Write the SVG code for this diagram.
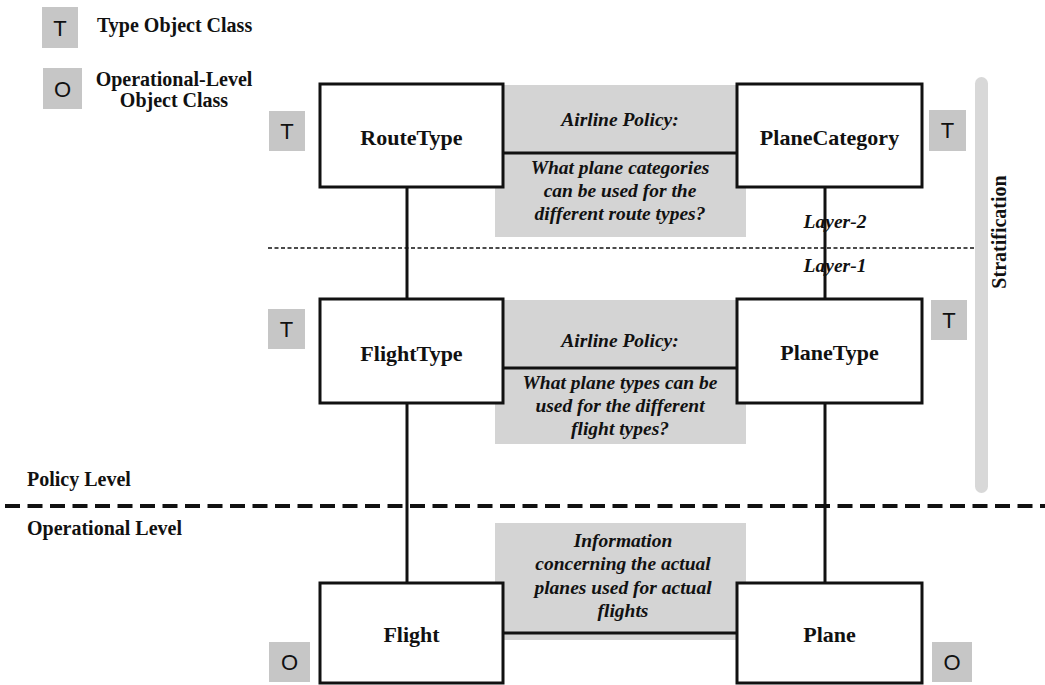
<svg xmlns="http://www.w3.org/2000/svg" width="1045" height="685" viewBox="0 0 1045 685">
<style>
.badge{fill:#c6c6c6}
.bl{font-family:"Liberation Sans",Arial,sans-serif;font-size:22px;fill:#111;text-anchor:middle}
.box{fill:#fff;stroke:#111;stroke-width:3}
.lbl{font-family:"Liberation Serif","Times New Roman",serif;font-weight:bold;font-size:22px;fill:#111;text-anchor:middle}
.note{fill:#d4d4d4}
.nt{font-family:"Liberation Serif","Times New Roman",serif;font-weight:bold;font-style:italic;font-size:19.5px;fill:#111;text-anchor:middle}
.leg{font-family:"Liberation Serif","Times New Roman",serif;font-weight:bold;font-size:20px;fill:#111}
.conn{stroke:#111;stroke-width:3;fill:none}
</style>
<rect width="1045" height="685" fill="#fff"/>

<g id="legend">
<rect class="badge" x="42" y="7" width="36" height="41"/>
<text class="bl" x="60" y="36">T</text>
<text class="leg" x="97" y="32">Type Object Class</text>
<rect class="badge" x="43" y="68" width="39" height="41"/>
<text class="bl" x="62.5" y="97">O</text>
<text class="leg" x="174" y="86" text-anchor="middle">Operational-Level</text>
<text class="leg" x="174" y="107" text-anchor="middle">Object Class</text>
</g>

<g id="stratification">
<rect x="975" y="77" width="13" height="416" rx="6.5" fill="#d8d8d8"/>
<text class="leg" font-size="18" text-anchor="middle" transform="translate(1006,232) rotate(-90)">Stratification</text>
</g>

<g id="levels">
<line x1="268" y1="248" x2="975" y2="248" stroke="#111" stroke-width="1.5" stroke-dasharray="4 2.5"/>
<line x1="5" y1="506" x2="1045" y2="506" stroke="#111" stroke-width="4" stroke-dasharray="15 7.5"/>
<text class="leg" x="27" y="486">Policy Level</text>
<text class="leg" x="27" y="535">Operational Level</text>
<text class="nt" x="835" y="228" text-anchor="start">Layer-2</text>
<text class="nt" x="835" y="272" text-anchor="start">Layer-1</text>
</g>

<g id="note1">
<rect class="note" x="495" y="85" width="251" height="152"/>
<text class="nt" x="620" y="126">Airline Policy:</text>
<text class="nt" x="620" y="174">What plane categories</text>
<text class="nt" x="620" y="197">can be used for the</text>
<text class="nt" x="620" y="220">different route types?</text>
</g>
<g id="note2">
<rect class="note" x="495" y="300" width="251" height="144"/>
<text class="nt" x="620" y="347">Airline Policy:</text>
<text class="nt" x="620" y="389">What plane types can be</text>
<text class="nt" x="620" y="412">used for the different</text>
<text class="nt" x="620" y="435">flight types?</text>
</g>
<g id="note3">
<rect class="note" x="495" y="523" width="251" height="117"/>
<text class="nt" x="623" y="547">Information</text>
<text class="nt" x="623" y="570">concerning the actual</text>
<text class="nt" x="623" y="594">planes used for actual</text>
<text class="nt" x="623" y="617">flights</text>
</g>

<g id="connectors">
<line class="conn" x1="407" y1="187" x2="407" y2="299"/>
<line class="conn" x1="407" y1="403" x2="407" y2="583"/>
<line class="conn" x1="825" y1="187" x2="825" y2="299"/>
<line class="conn" x1="825" y1="403" x2="825" y2="583"/>
<line class="conn" x1="503" y1="153" x2="737" y2="153"/>
<line class="conn" x1="503" y1="368" x2="737" y2="368"/>
<line class="conn" x1="503" y1="633" x2="737" y2="633"/>
</g>

<g id="RouteType">
<rect class="box" x="320" y="84" width="183" height="103"/>
<text class="lbl" x="411.5" y="145">RouteType</text>
<rect class="badge" x="269" y="111" width="36" height="40"/>
<text class="bl" x="287" y="139">T</text>
</g>
<g id="PlaneCategory">
<rect class="box" x="737" y="84" width="185" height="103"/>
<text class="lbl" x="829.5" y="145">PlaneCategory</text>
<rect class="badge" x="929" y="110" width="37" height="41"/>
<text class="bl" x="947.5" y="138">T</text>
</g>
<g id="FlightType">
<rect class="box" x="320" y="299" width="183" height="104"/>
<text class="lbl" x="411.5" y="361">FlightType</text>
<rect class="badge" x="268" y="309" width="37" height="40"/>
<text class="bl" x="286.5" y="337">T</text>
</g>
<g id="PlaneType">
<rect class="box" x="737" y="299" width="185" height="104"/>
<text class="lbl" x="829.5" y="360">PlaneType</text>
<rect class="badge" x="931" y="300" width="36" height="40"/>
<text class="bl" x="949" y="328">T</text>
</g>
<g id="Flight">
<rect class="box" x="320" y="583" width="183" height="100"/>
<text class="lbl" x="411.5" y="642">Flight</text>
<rect class="badge" x="269" y="642" width="41" height="40"/>
<text class="bl" x="289.5" y="670">O</text>
</g>
<g id="Plane">
<rect class="box" x="737" y="583" width="185" height="100"/>
<text class="lbl" x="829.5" y="642">Plane</text>
<rect class="badge" x="932" y="642" width="40" height="40"/>
<text class="bl" x="952" y="670">O</text>
</g>
</svg>
